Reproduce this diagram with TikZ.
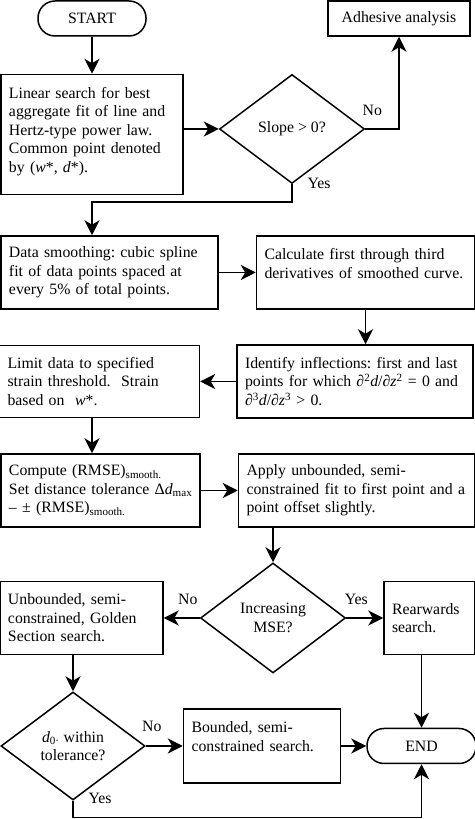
\documentclass[tikz,border=0pt]{standalone}
\usepackage{fontspec}
\setmainfont{Liberation Serif}
\usetikzlibrary{arrows.meta,positioning,shapes.geometric}

\begin{document}
\frenchspacing
\begin{tikzpicture}[x=1pt, y=1pt, >={Stealth[length=15pt,width=15pt,inset=4.5pt]}, line width=1.5pt,
  font=\fontsize{15.8}{18.5}\selectfont,
  stepbox/.style={draw,align=left,inner xsep=8pt,inner ysep=0pt,minimum height=73pt},
  decision/.style={draw,diamond,aspect=1.33,inner sep=0pt,align=center,minimum width=145pt,minimum height=109pt},
  terminal/.style={draw,rounded corners=17pt,minimum width=108pt,minimum height=35pt},
  lbl/.style={inner sep=0pt}]
\useasboundingbox (0,0) rectangle (474,819);

\node(start)[terminal] at (92,800.5) {START};
\node(adhesive)[draw,minimum width=142pt,minimum height=35pt] at (399,800.5) {Adhesive analysis};
\node(lin)[stepbox,text width=166pt,minimum height=120pt,below=37pt of start]{Linear search for best\\aggregate fit of line and\\Hertz-type power law.\\Common point denoted\\by (\textit{w}*, \textit{d}*).\\[-9pt]\mbox{}};
\node(slope)[decision,right=35pt of lin,yshift=5.5pt]{Slope > 0?};

\node(smooth)[stepbox,text width=201pt] at (109.5,546.5) {Data smoothing: cubic spline\\fit of data points spaced at\\every 5\% of total points.};
\node(deriv)[stepbox,text width=202pt,right=37pt of smooth]{Calculate first through third\\derivatives of smoothed curve.\\\mbox{}};
\node(inflect)[stepbox,text width=220pt] at (355,437.5) {Identify inflections: first and last\\points for which \textit{∂}\textsuperscript{2}\textit{d}/\textit{∂z}\textsuperscript{2} = 0 and\\\textit{∂}\textsuperscript{3}\textit{d}/\textit{∂z}\textsuperscript{3} > 0.};
\node(limit)[stepbox,text width=184pt,minimum height=72pt,left=36pt of inflect]{Limit data to specified\\strain threshold.\ \ Strain\\based on \ \textit{w}*.};
\node(rmse)[stepbox,text width=183pt] at (100.5,328.5) {Compute (RMSE)\textsubscript{smooth.}\\\mbox{Set distance tolerance Δ\textit{d}\textsubscript{max}}\\– ± (RMSE)\textsubscript{smooth.}};
\node(apply)[stepbox,text width=220pt,right=37pt of rmse]{Apply unbounded, semi-\\constrained fit to first point and a\\point offset slightly.};

\node(mse)[decision,minimum height=110pt] at (273,201) {Increasing\\MSE?};
\node(golden)[stepbox,text width=147pt,left=36pt of mse]{Unbounded, semi-\\constrained, Golden\\Section search.};
\node(rear)[stepbox,text width=75pt,right=37pt of mse]{Rearwards\\search.};
\node(tol)[decision,minimum width=144pt,minimum height=108pt] at (73,73) {\textit{d}\textsubscript{0·} within\\tolerance?};
\node(bounded)[stepbox,text width=141pt,minimum height=74pt,right=37pt of tol]{Bounded, semi-\\constrained search.\\\mbox{}};
\node(end)[terminal,minimum width=109pt,right=25pt of bounded]{END};

\node(no1)[lbl] at ([shift={(7,19)}]slope.east) {No};
\node(yes1)[lbl] at ([shift={(27,1)}]slope.south) {Yes};
\node(no2)[lbl] at ([shift={(-12,19)}]mse.west) {No};
\node(yes2)[lbl] at ([shift={(10,19)}]mse.east) {Yes};
\node(no3)[lbl] at ([shift={(6,20)}]tol.east) {No};
\node(yes3)[lbl] at ([shift={(27,2)}]tol.south) {Yes};

\draw[->] (start) -- (lin);
\draw[->] (lin.east |- slope.west) -- (slope.west);
\draw[->] (slope.east) -| (adhesive.south);
\draw[->] (slope.south) -- ++(0,-18) -| (smooth.north -| lin.south);
\draw[->] (smooth) -- (deriv);
\draw[->] (deriv.south) -- (deriv.south |- inflect.north);
\draw[->] (inflect.west) -- (inflect.west -| limit.east);
\draw[->] (limit.south -| lin.south) -- (rmse.north -| lin.south);
\draw[->] (rmse) -- (apply);
\draw[->] (apply.south -| mse.north) -- (mse.north);
\draw[->] (mse.west) -- (mse.west -| golden.east);
\draw[->] (mse.east) -- (mse.east -| rear.west);
\draw[->] (golden.south -| tol.north) -- (tol.north);
\draw[->] (rear.south -| end.north) -- (end.north);
\draw[->] (tol.east) -- (tol.east -| bounded.west);
\draw[->] (bounded.east |- end.west) -- (end.west);
\draw[->] (tol.south) -- ++(0,-17) -| (end.south);
\end{tikzpicture}
\end{document}
